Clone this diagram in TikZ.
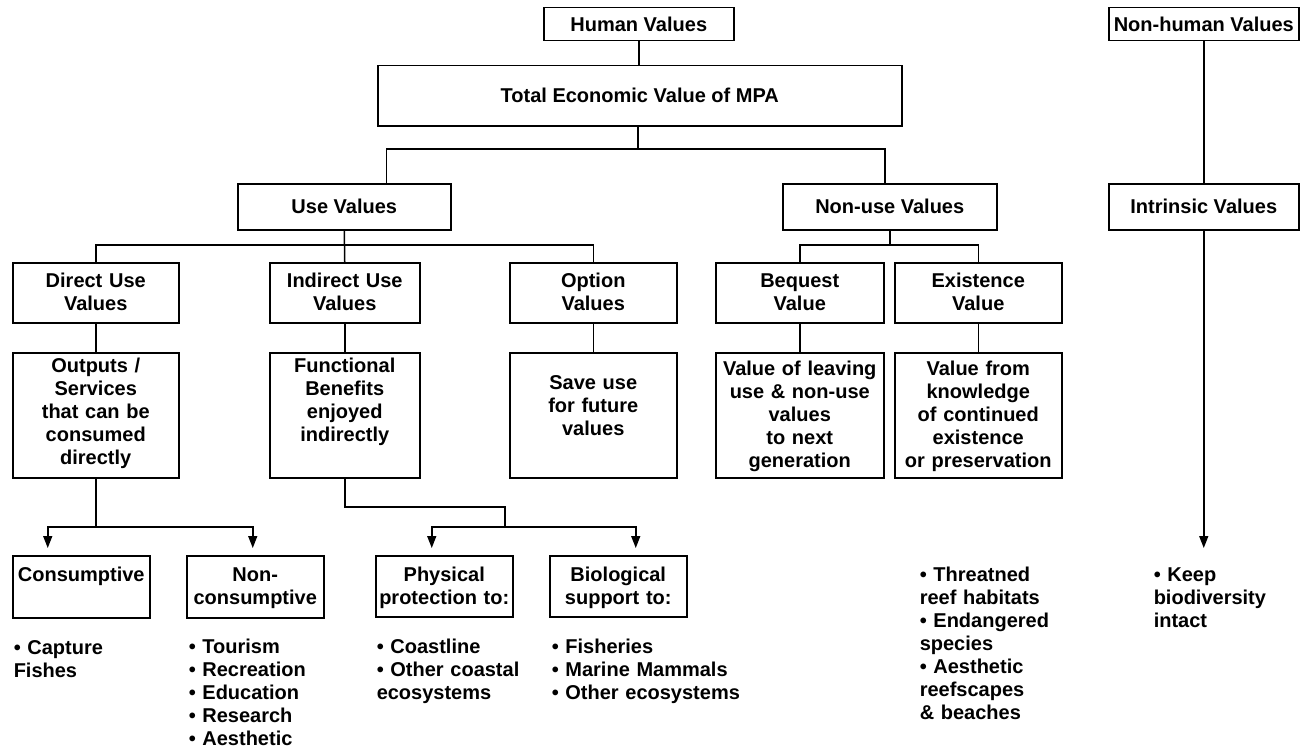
\documentclass[tikz,border=0pt]{standalone}
\usepackage{fontspec}
\setmainfont{Liberation Sans}
\usetikzlibrary{arrows.meta}

\begin{document}
\begin{tikzpicture}[x=1pt,y=-1pt,line width=1.5pt,
		font=\fontsize{20}{23}\selectfont\bfseries,
		valbox/.style={draw,anchor=north west,inner sep=0pt,align=center},
		toptext/.style n args={3}{text width=#1,text height=#2,text depth=#3},
		items/.style={anchor=north west,inner sep=0pt,align=left,text width=220pt,text height=15pt},
		down/.style={-{Triangle[length=12pt,width=9pt]},shorten >=7pt}]
	\useasboundingbox (0,0) rectangle (1305,749);
	% top rows
	\node[valbox,minimum width=190pt,minimum height=33pt] (human) at (543,7) {Human Values};
	\node[valbox,minimum width=190pt,minimum height=33pt] (nonhuman) at (1108,7) {Non-human Values};
	\node[valbox,minimum width=524pt,minimum height=60pt] (total) at (377,65) {Total Economic Value of MPA};
	\node[valbox,minimum width=213pt,minimum height=46pt] (use) at (237,183) {Use Values};
	\node[valbox,minimum width=214pt,minimum height=46pt] (nonuse) at (782,183) {Non-use Values};
	\node[valbox,minimum width=190pt,minimum height=46pt] (intrinsic) at (1108,183) {Intrinsic Values};
	% value types
	\node[valbox,toptext={166pt}{25pt}{35pt}] (direct) at (12,262) {Direct Use\\Values};
	\node[valbox,toptext={150pt}{25pt}{35pt}] (indirect) at (269,262) {Indirect Use\\Values};
	\node[valbox,toptext={167pt}{25pt}{35pt}] (option) at (509,262) {Option\\Values};
	\node[valbox,toptext={168pt}{25pt}{35pt}] (bequest) at (715,262) {Bequest\\Value};
	\node[valbox,toptext={167pt}{25pt}{35pt}] (existence) at (894,262) {Existence\\Value};
	% descriptions
	\node[valbox,toptext={166pt}{20pt}{105pt}] (outputs) at (12,352)
		{Outputs /\\Services\\that can be\\consumed\\directly};
	\node[valbox,toptext={150pt}{20pt}{105pt}] (functional) at (269,352)
		{Functional\\Benefits\\enjoyed\\indirectly};
	\node[valbox,toptext={167pt}{37pt}{88pt}] (saveuse) at (509,352)
		{Save use\\for future\\values};
	\node[valbox,toptext={168pt}{23pt}{102pt}] (leaving) at (715,352)
		{Value of leaving\\use \& non-use\\values\\to next\\generation};
	\node[valbox,toptext={167pt}{23pt}{102pt}] (knowledge) at (894,352)
		{Value from\\knowledge\\of continued\\existence\\or preservation};
	% bottom boxes
	\node[valbox,toptext={137pt}{26pt}{36pt}] (consumptive) at (12,555) {Consumptive};
	\node[valbox,toptext={137pt}{26pt}{36pt}] (noncons) at (186,555) {Non-\\consumptive};
	\node[valbox,toptext={137pt}{26pt}{35pt}] (physical) at (375,555) {Physical\\protection to:};
	\node[valbox,toptext={137pt}{26pt}{35pt}] (biological) at (549,555) {Biological\\support to:};
	% lists
	\node[items] (capture) at (13,639) {• Capture\\Fishes};
	\node[items] (tourism) at (188,638) {• Tourism\\• Recreation\\• Education\\• Research\\• Aesthetic};
	\node[items] (coastline) at (376,638) {• Coastline\\• Other coastal\\ecosystems};
	\node[items] (fisheries) at (551,638) {• Fisheries\\• Marine Mammals\\• Other ecosystems};
	\node[items] (threatned) at (919,566) {• Threatned\\reef habitats\\• Endangered\\species\\• Aesthetic\\reefscapes\\\& beaches};
	\node[items] (keep) at (1153,566) {• Keep\\biodiversity\\intact};

	% connectors
	\coordinate (tevfork) at (638,149);
	\coordinate (usefork) at (343.5,245);
	\coordinate (outfork) at (95,527);
	\coordinate (funfork) at (505,527);
	\draw (human.south) -- (human.south |- total.north);
	\draw (total.south -| tevfork) -- (tevfork);
	\draw ([xshift=42pt]use.north) |- (tevfork) -| ([xshift=-5pt]nonuse.north);
	\draw (use.south) -- (indirect.north);
	\draw (direct.north) |- (usefork) -| (option.north);
	\draw (nonuse.south) -- (nonuse.south |- usefork);
	\draw (bequest.north) |- (nonuse.south |- usefork) -| (existence.north);
	\foreach \a/\b in {direct/outputs,indirect/functional,option/saveuse,
		bequest/leaving,existence/knowledge,nonhuman/intrinsic}
		\draw (\a) -- (\b);
	\draw (outputs.south) -- (outputs.south |- outfork);
	\draw[down] (outputs.south |- outfork) -| ([xshift=-33.5pt]consumptive.north);
	\draw[down] (outputs.south |- outfork) -| ([xshift=-2.5pt]noncons.north);
	\draw (functional.south) |- ([yshift=20pt]funfork) -- (funfork);
	\draw[down] (funfork) -| ([xshift=-12.5pt]physical.north);
	\draw[down] (funfork) -| ([xshift=17.5pt]biological.north);
	\draw[down,shorten >=18pt] (intrinsic.south) -- (keep.north -| intrinsic.south);
\end{tikzpicture}
\end{document}
